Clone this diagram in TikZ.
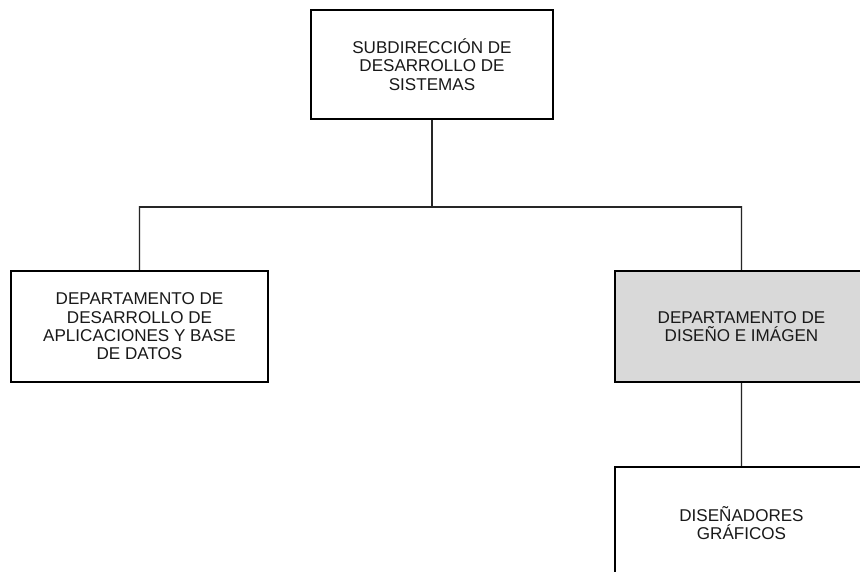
\documentclass[tikz,border=0pt]{standalone}
\usepackage{fontspec}
\setmainfont{Liberation Sans}
\usetikzlibrary{backgrounds}
\definecolor{boxgray}{RGB}{217,217,217}
\tikzset{
  orgbox/.style={draw=black, fill=white, line width=1.2pt, rectangle, align=center, inner sep=0pt,
    font=\fontsize{12.8pt}{13.8pt}\selectfont, text=black!90},
  conn/.style={draw=black!85, line width=0.9pt},
  connshadow/.style={draw=black!12, line width=2.2pt}
}
\begin{document}
\begin{tikzpicture}[x=0.75pt,y=-0.75pt]
\useasboundingbox (0,0) rectangle (860,571);
\clip (0,0) rectangle (860,571);
% nodes
\node[orgbox, minimum width=242*0.75pt, minimum height=109*0.75pt] (top) at (432,64.5)
  {SUBDIRECCIÓN DE\\DESARROLLO DE\\SISTEMAS};
\node[orgbox, minimum width=257*0.75pt, minimum height=111*0.75pt] (left) at (139.5,326.5)
  {DEPARTAMENTO DE\\DESARROLLO DE\\APLICACIONES Y BASE\\DE DATOS};
\node[orgbox, fill=boxgray, minimum width=253*0.75pt, minimum height=111*0.75pt] (right) at (741.5,326.5)
  {DEPARTAMENTO DE\\DISEÑO E IMÁGEN};
\node[orgbox, minimum width=253*0.75pt, minimum height=112*0.75pt] (bottom) at (741.5,523)
  {DISEÑADORES\\GRÁFICOS};
\coordinate (bus) at (432,207);
\begin{scope}[on background layer]
\fill[white] (0,0) rectangle (860,571);
% connector shadows
\draw[connshadow, shift={(1.5,1.5)}] (top.south) -- (bus);
\draw[connshadow, shift={(1.5,1.5)}] (left.north) |- (bus) -| (right.north);
\draw[connshadow, shift={(1.5,1.5)}] (right.south) -- (bottom.north);
% connectors
\draw[conn] (top.south) -- (bus);
\draw[conn] (left.north) |- (bus) -| (right.north);
\draw[conn] (right.south) -- (bottom.north);
\end{scope}
\end{tikzpicture}
\end{document}
